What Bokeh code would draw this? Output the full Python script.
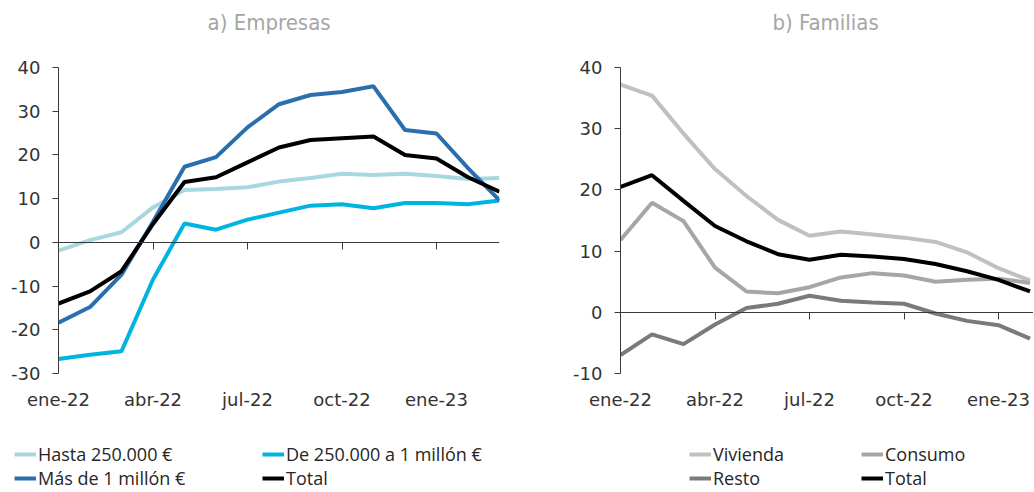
from bokeh.plotting import figure
from bokeh.models import Range1d, LinearAxis, FixedTicker, Legend, LegendItem, Label
from bokeh.layouts import row, column
from bokeh.embed import file_html
from bokeh.resources import INLINE

# ---------------- data ----------------
months = ["ene-22", "feb-22", "mar-22", "abr-22", "may-22", "jun-22", "jul-22",
          "ago-22", "sep-22", "oct-22", "nov-22", "dic-22", "ene-23", "feb-23", "mar-23"]
tick_idx = [0, 3, 6, 9, 12]
tick_labels = ["ene-22", "abr-22", "jul-22", "oct-22", "ene-23"]

# a) Empresas
emp_hasta = [-1.9, 0.5, 2.3, 8.0, 12.0, 12.2, 12.6, 13.9, 14.7, 15.7, 15.4, 15.7, 15.2, 14.5, 14.7]
emp_medio = [-26.7, -25.7, -24.9, -8.5, 4.3, 2.9, 5.2, 6.8, 8.4, 8.7, 7.8, 9.0, 9.0, 8.7, 9.6]
emp_mas = [-18.4, -14.8, -7.4, 4.7, 17.3, 19.5, 26.3, 31.6, 33.7, 34.4, 35.7, 25.7, 24.9, 17.0, 9.6]
emp_total = [-14.0, -11.2, -6.6, 4.2, 13.8, 14.9, 18.3, 21.7, 23.4, 23.8, 24.2, 20.0, 19.2, 14.9, 11.6]

# b) Familias
fam_vivienda = [37.2, 35.4, 29.2, 23.4, 19.0, 15.1, 12.5, 13.2, 12.7, 12.2, 11.5, 9.8, 7.2, 5.2]
fam_consumo = [11.8, 17.9, 14.9, 7.3, 3.4, 3.1, 4.1, 5.7, 6.4, 6.0, 5.0, 5.3, 5.5, 4.8]
fam_resto = [-7.0, -3.6, -5.2, -2.0, 0.7, 1.4, 2.7, 1.9, 1.6, 1.4, -0.2, -1.4, -2.1, -4.3]
fam_total = [20.5, 22.4, 18.2, 14.1, 11.6, 9.5, 8.6, 9.4, 9.1, 8.7, 7.9, 6.7, 5.3, 3.4]

emp_yticks = [-30, -20, -10, 0, 10, 20, 30, 40]
fam_yticks = [-10, 0, 10, 20, 30, 40]

emp_labels = ["Hasta 250.000 €", "De 250.000 a 1 millón €", "Más de 1 millón €", "Total"]
emp_colors = ["#a8d8df", "#00b4e0", "#2a6ead", "#000000"]
fam_labels = ["Vivienda", "Consumo", "Resto", "Total"]
fam_colors = ["#c0c0c0", "#a6a6a6", "#7a7a7a", "#000000"]

TICK_FONT = "DejaVu Sans"
LEG_FONT = "Open Sans"
TITLE_FONT = "'Liberation Sans Narrow', 'DejaVu Sans Condensed', 'Open Sans'"
AX_COLOR = "#3a3a3a"
TXT_COLOR = "#333333"


def blank_fig(width, height):
    f = figure(width=width, height=height, output_backend="svg", toolbar_location=None,
               x_range=Range1d(0, 1), y_range=Range1d(0, 1),
               x_axis_location=None, y_axis_location=None,
               min_border_left=0, min_border_right=0, min_border_top=0, min_border_bottom=0)
    f.outline_line_color = None
    f.grid.visible = False
    return f


def make_title_fig(width, text, x):
    f = blank_fig(width, 40)
    f.add_layout(Label(x=x, y=18, x_units="screen", y_units="screen", text=text,
                       text_align="left", text_baseline="middle",
                       text_font=TITLE_FONT, text_font_size="22px",
                       text_color="#a6a6a6"))
    return f


def make_fig(width, bl, br, x_end, y_start, y_end, yticks):
    p = figure(width=width, height=400, output_backend="svg", toolbar_location=None,
               x_range=Range1d(0, x_end), y_range=Range1d(y_start, y_end),
               x_axis_location=None, y_axis_location=None,
               min_border_left=bl, min_border_right=br, min_border_top=27, min_border_bottom=67)
    p.outline_line_color = None
    p.grid.visible = False
    p.background_fill_color = "white"
    p.border_fill_color = "white"

    yax = LinearAxis(ticker=FixedTicker(ticks=yticks),
                     major_label_overrides={t: str(t) for t in yticks})
    yax.axis_line_color = AX_COLOR
    yax.major_tick_line_color = AX_COLOR
    yax.minor_tick_line_color = None
    yax.major_tick_in = 0
    yax.major_tick_out = 6
    yax.major_label_standoff = 12
    yax.major_label_text_font = TICK_FONT
    yax.major_label_text_font_size = "18px"
    yax.major_label_text_color = TXT_COLOR
    p.add_layout(yax, "left")

    # horizontal axis line at zero, with tick marks pointing down
    zax = LinearAxis(ticker=FixedTicker(ticks=tick_idx), fixed_location=0)
    zax.axis_line_color = AX_COLOR
    zax.major_tick_line_color = AX_COLOR
    zax.minor_tick_line_color = None
    zax.major_tick_in = 7
    zax.major_tick_out = 0
    zax.major_label_text_color = None
    zax.major_label_text_font_size = "10px"
    zax.major_label_standoff = 0
    p.add_layout(zax, "above")

    xax = LinearAxis(ticker=FixedTicker(ticks=tick_idx),
                     major_label_overrides={i: l for i, l in zip(tick_idx, tick_labels)})
    xax.axis_line_color = None
    xax.major_tick_line_color = None
    xax.minor_tick_line_color = None
    xax.major_tick_out = 0
    xax.major_tick_in = 0
    xax.major_label_standoff = 15
    xax.major_label_text_font = TICK_FONT
    xax.major_label_text_font_size = "18px"
    xax.major_label_text_color = TXT_COLOR
    p.add_layout(xax, "below")
    return p


def make_legend_fig(width, labels, colors, x, label_width):
    f = blank_fig(width, 50)
    items = []
    for lab, col in zip(labels, colors):
        # legend sample only, drawn outside the visible range
        r = f.line(x=[-10, -9], y=[-10, -10], line_color=col, line_width=4)
        items.append(LegendItem(label=lab, renderers=[r]))
    # row-major order for two columns (legend fills column by column)
    items = [items[0], items[2], items[1], items[3]]
    leg = Legend(items=items, ncols=2, location=(x, 0))
    leg.border_line_color = None
    leg.background_fill_alpha = 0
    leg.padding = 0
    leg.margin = 0
    leg.spacing = 0
    leg.glyph_width = 22
    leg.glyph_height = 18
    leg.label_height = 18
    leg.label_standoff = 2
    leg.label_width = label_width
    leg.label_text_font = LEG_FONT
    leg.label_text_font_size = "18px"
    leg.label_text_color = "#262626"
    f.add_layout(leg)
    return f


# ---------- left ----------
x1 = list(range(len(emp_total)))
p1 = make_fig(547, 58, 48, len(x1) - 1, -30, 40, emp_yticks)
for ys, col in zip([emp_hasta, emp_medio, emp_mas, emp_total], emp_colors):
    p1.line(x1, ys, line_color=col, line_width=4)

# ---------- right ----------
x2 = list(range(len(fam_total)))
p2 = make_fig(486, 73, 0, 413 / 31.5, -10, 40, fam_yticks)
for ys, col in zip([fam_vivienda, fam_consumo, fam_resto, fam_total], fam_colors):
    p2.line(x2, ys, line_color=col, line_width=4)

t1 = make_title_fig(547, "a) Empresas", 207)
t2 = make_title_fig(486, "b) Familias", 225)
l1 = make_legend_fig(547, emp_labels, emp_colors, 14, 224)
l2 = make_legend_fig(486, fam_labels, fam_colors, 142, 148)

layout = column(row(t1, t2), row(p1, p2), row(l1, l2))
open("out.html", "w").write(file_html(layout, INLINE))
